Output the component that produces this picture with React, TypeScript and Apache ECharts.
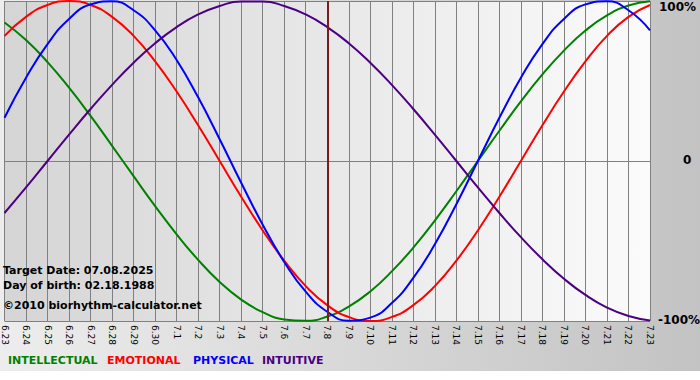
import React, { useEffect, useRef } from 'react';
import * as echarts from 'echarts';

const DATES = [
  '6.23', '6.24', '6.25', '6.26', '6.27', '6.28', '6.29', '6.30',
  '7.1', '7.2', '7.3', '7.4', '7.5', '7.6', '7.7', '7.8', '7.9', '7.10',
  '7.11', '7.12', '7.13', '7.14', '7.15', '7.16', '7.17', '7.18', '7.19',
  '7.20', '7.21', '7.22', '7.23',
];
const TARGET_DATE = '7.8';

const INTELLECTUAL = [86.6, 75.6, 61.8, 45.8, 28.2, 9.5, -9.5, -28.2, -45.8, -61.8, -75.6, -86.6, -94.5, -99.0, -99.9, -97.2, -91.0, -81.5, -69.0, -54.1, -37.2, -18.9, 0, 18.9, 37.2, 54.1, 69.0, 81.5, 91.0, 97.2, 99.9];
const EMOTIONAL = [78.2, 90.1, 97.5, 100, 97.5, 90.1, 78.2, 62.3, 43.4, 22.3, 0, -22.3, -43.4, -62.3, -78.2, -90.1, -97.5, -100, -97.5, -90.1, -78.2, -62.3, -43.4, -22.3, 0, 22.3, 43.4, 62.3, 78.2, 90.1, 97.5];
const PHYSICAL = [27.0, 52.0, 73.1, 88.8, 97.9, 99.8, 94.2, 81.7, 63.1, 39.8, 13.6, -13.6, -39.8, -63.1, -81.7, -94.2, -99.8, -97.9, -88.8, -73.1, -52.0, -27.0, 0, 27.0, 52.0, 73.1, 88.8, 97.9, 99.8, 94.2, 81.7];
const INTUITIVE = [-32.5, -16.5, 0, 16.5, 32.5, 47.6, 61.4, 73.6, 83.7, 91.6, 96.9, 99.7, 99.7, 96.9, 91.6, 83.7, 73.6, 61.4, 47.6, 32.5, 16.5, 0, -16.5, -32.5, -47.6, -61.4, -73.6, -83.7, -91.6, -96.9, -99.7];

const SERIES_NAMES = ['INTELLECTUAL', 'EMOTIONAL', 'PHYSICAL', 'INTUITIVE'];
const SERIES_COLORS = ['#008000', '#ff0000', '#0000ff', '#4b0082'];
const SERIES_DATA = [INTELLECTUAL, EMOTIONAL, PHYSICAL, INTUITIVE];
const LEGEND_X = [8, 107, 193, 262];

const INFO_LINES = ['Target Date: 07.08.2025', 'Day of birth: 02.18.1988', '©2010 biorhythm-calculator.net'];
const INFO_TOPS = [265, 280, 300];

const FONT = '"DejaVu Sans", Verdana, sans-serif';

export default function App() {
  const ref = useRef<HTMLDivElement>(null);
  useEffect(() => {
    const chart = echarts.init(ref.current!, null, { renderer: 'svg' });
    const series: any[] = SERIES_NAMES.map((name, i) => ({
      name,
      type: 'line',
      data: SERIES_DATA[i],
      smooth: true,
      symbol: 'none',
      lineStyle: { color: SERIES_COLORS[i], width: 2 },
      itemStyle: { color: SERIES_COLORS[i] },
      z: 3,
    }));
    series[3].markLine = {
      silent: true,
      symbol: ['none', 'none'],
      label: { show: false },
      lineStyle: { color: '#7a1c1c', width: 2, type: 'solid' },
      data: [{ xAxis: TARGET_DATE }],
    };
    chart.setOption({
      animation: false,
      backgroundColor: new echarts.graphic.LinearGradient(0, 0, 1, 0, [
        { offset: 0, color: '#ededed' },
        { offset: 1, color: '#c3c3c3' },
      ]),
      grid: {
        left: 0,
        right: 50,
        top: 1,
        bottom: 50,
        show: true,
        borderWidth: 0,
        backgroundColor: new echarts.graphic.LinearGradient(0, 0, 1, 0, [
          { offset: 0, color: '#d5d5d5' },
          { offset: 1, color: '#fbfbfb' },
        ]),
      },
      xAxis: {
        type: 'category',
        data: DATES,
        boundaryGap: false,
        axisLine: { show: true, lineStyle: { color: '#808080', width: 1 } },
        axisTick: { show: false },
        splitLine: { show: true, interval: 0, lineStyle: { color: '#808080', width: 1 } },
        axisLabel: {
          interval: 0,
          rotate: -90,
          margin: 4,
          fontSize: 9,
          fontFamily: FONT,
          color: '#000',
        },
      },
      yAxis: {
        type: 'value',
        position: 'right',
        min: -100,
        max: 100,
        interval: 100,
        axisLine: { show: false },
        axisTick: { show: false },
        axisLabel: { show: false },
        splitLine: { show: true, lineStyle: { color: '#808080', width: 1 } },
      },
      series,
      graphic: [
        ...INFO_LINES.map((t, i) => ({
          type: 'text',
          left: 3,
          top: INFO_TOPS[i],
          z: 10,
          style: { text: t, font: `bold 11px ${FONT}`, fill: '#000' },
        })),
        ...SERIES_NAMES.map((t, i) => ({
          type: 'text',
          left: LEGEND_X[i],
          top: 355,
          z: 10,
          style: { text: t, font: `bold 11px ${FONT}`, fill: SERIES_COLORS[i] },
        })),
        { type: 'text', left: 659, top: 1, style: { text: '100%', font: `bold 12px ${FONT}`, fill: '#000' } },
        { type: 'text', left: 683, top: 154, style: { text: '0', font: `bold 12px ${FONT}`, fill: '#000' } },
        { type: 'text', left: 658, top: 314, style: { text: '-100%', font: `bold 12px ${FONT}`, fill: '#000' } },
      ],
    });
    return () => chart.dispose();
  }, []);
  return (
    <div style={{ position: 'absolute', left: 0, top: 0, width: 700, height: 380, background: '#fff' }}>
      <div ref={ref} style={{ width: 700, height: 371 }} />
    </div>
  );
}
